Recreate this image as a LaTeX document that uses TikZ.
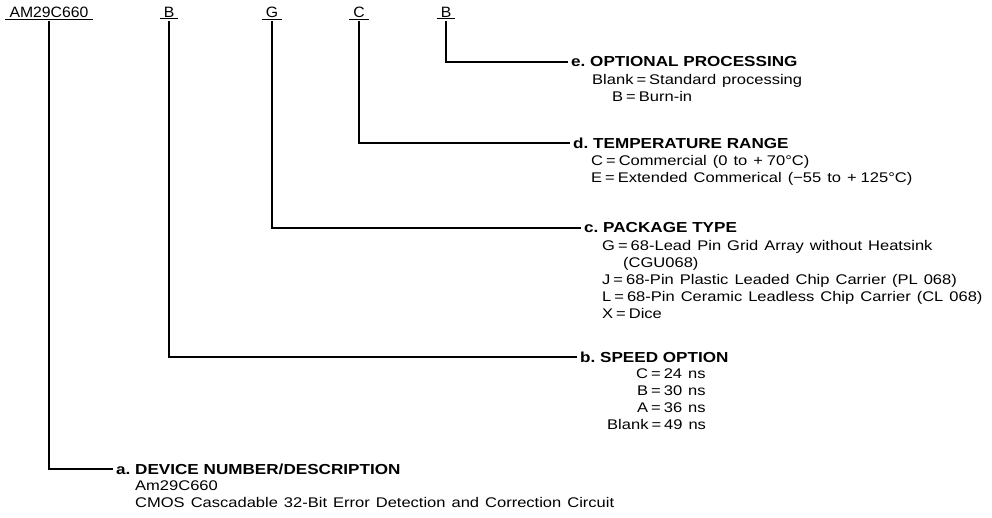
\documentclass[tikz,border=0pt]{standalone}
\usepackage{fontspec}
\setmainfont{Liberation Sans}
\newfontfamily\codefam{Liberation Sans}[FakeStretch=1.05]
\newfontfamily\textfam{Liberation Sans}[FakeStretch=1.18]
\usetikzlibrary{positioning}
\newcommand{\codefont}{\codefam\fontsize{15}{17}\selectfont}
\newcommand{\headfont}{\textfam\fontsize{14.5}{17}\selectfont\bfseries}
\newcommand{\bodyfont}{\textfam\fontsize{14}{17}\selectfont\spaceskip=6pt plus 1pt minus 1pt\relax}
\newcommand{\eq}{\kern3pt=\kern3pt}
\newcommand{\plus}{+\kern4pt}

\begin{document}
\begin{tikzpicture}[x=1pt, y=-1pt,
  field/.style={font=\codefont, inner xsep=4pt, inner ysep=1.5pt},
  head/.style={font=\headfont, anchor=west, inner sep=0pt},
  body/.style={font=\bodyfont, align=left, anchor=north west, inner sep=0pt},
  lead/.style={line width=1.3pt},
  uline/.style={line width=0.8pt}
]
  \useasboundingbox (0,0) rectangle (992,518);
  % ordering code fields
  \node[field] (dev) at (49,12) {AM29C660};
  \node[field] (spd) at (169,12) {B};
  \node[field] (pkg) at (272,12) {G};
  \node[field] (tmp) at (359,12) {C};
  \node[field] (opt) at (446,12) {B};
  \foreach \f in {dev,spd,pkg,tmp,opt}
    \draw[uline] (\f.south west) -- (\f.south east);

  % headings
  \node[head] (hdE) at (571,62) {e.\ OPTIONAL PROCESSING};
  \node[head] (hdD) at (573,143) {d.\ TEMPERATURE RANGE};
  \node[head] (hdC) at (584,228) {c.\ PACKAGE TYPE};
  \node[head] (hdB) at (580,357) {b.\ SPEED OPTION};
  \node[head] (hdA) at (116,469) {a.\ DEVICE NUMBER/DESCRIPTION};

  % descriptions
  \node[body] (bdE) at (592,74) {Blank\eq Standard processing\\\hspace*{20pt}B\eq Burn-in};
  \node[body] (bdD) at (591,155) {C\eq Commercial (0 to \plus 70°C)\\E\eq Extended Commerical (−55 to \plus 125°C)};
  \node[body] (bdC) at (602,240) {G\eq 68-Lead Pin Grid Array without Heatsink\\\hspace*{21pt}(CGU068)\\J\eq 68-Pin Plastic Leaded Chip Carrier (PL 068)\\L\eq 68-Pin Ceramic Leadless Chip Carrier (CL 068)\\X\eq Dice};
  \node[body] (bdB) at (607,369) {\hspace*{29pt}C\eq 24 ns\\\hspace*{30pt}B\eq 30 ns\\\hspace*{30pt}A\eq 36 ns\\Blank\eq 49 ns};
  \node[body] (bdA) at (135,481) {Am29C660\\CMOS Cascadable 32-Bit Error Detection and Correction Circuit};

  % leaders
  \draw[lead] ([yshift=-2pt]opt.south) |- ([xshift=-3pt]hdE.west);
  \draw[lead] ([yshift=-2pt]tmp.south) |- ([xshift=-3pt]hdD.west);
  \draw[lead] ([yshift=-2pt]pkg.south) |- ([xshift=-3pt]hdC.west);
  \draw[lead] ([yshift=-2pt]spd.south) |- ([xshift=-3pt]hdB.west);
  \draw[lead] ([yshift=-2pt]dev.south) |- ([xshift=-3pt]hdA.west);
\end{tikzpicture}
\end{document}
